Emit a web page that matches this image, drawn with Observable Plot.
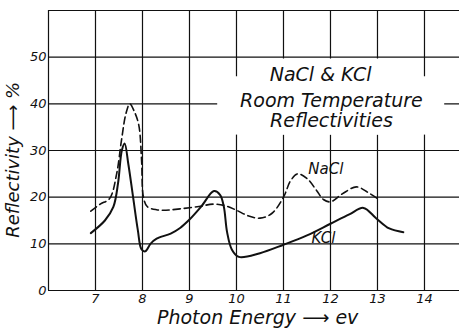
<!DOCTYPE html>
<html><head><meta charset="utf-8">
<script src="https://cdn.jsdelivr.net/npm/d3@7"></script>
<script src="https://cdn.jsdelivr.net/npm/@observablehq/plot@0.6"></script>
<style>body{margin:0;background:#fff} svg{display:block}</style>
</head><body><div id="chart"></div>
<script>
const naclEnergy = [6.9, 7.1, 7.3, 7.45, 7.55, 7.65, 7.73, 7.82, 7.92, 7.98, 8.02, 8.1, 8.3, 8.5, 8.8, 9.2, 9.5, 9.75, 10.0, 10.25, 10.5, 10.75, 11.0, 11.15, 11.3, 11.5, 11.7, 11.85, 12.0, 12.25, 12.55, 12.8, 13.0];
const naclRefl   = [17.0, 18.5, 19.7, 25, 32, 38, 40, 38.5, 35.5, 28, 20, 18, 17.3, 17.2, 17.5, 18, 18.5, 18.2, 17.2, 16, 15.5, 16.5, 20, 23.5, 25, 24, 21.5, 19.5, 19, 20.7, 22.2, 21, 19.7];
const kclEnergy = [6.9, 7.2, 7.38, 7.48, 7.56, 7.62, 7.7, 7.8, 7.9, 7.98, 8.06, 8.17, 8.3, 8.6, 8.8, 9.0, 9.25, 9.52, 9.65, 9.73, 9.8, 9.9, 10.05, 10.5, 11.0, 11.5, 12.0, 12.4, 12.7, 12.97, 13.25, 13.55];
const kclRefl   = [12.3, 15, 17.9, 23, 30, 31.5, 27, 20, 13, 8.8, 8.4, 10, 11.1, 12.2, 13.4, 15.2, 18, 21.3, 20.5, 18, 12.5, 8.8, 7.2, 8, 9.8, 11.8, 14.3, 16.3, 17.7, 15.5, 13.3, 12.5];
const xTicks = [7, 8, 9, 10, 11, 12, 13, 14];
const yTicks = [0, 10, 20, 30, 40, 50];
const xGrid = [6, 7, 8, 9, 10, 11, 12, 13, 14];
const yGrid = [0, 10, 20, 30, 40, 50, 60];
const titleLines = ["NaCl & KCl", "Room Temperature", "Reflectivities"];
const seriesNames = ["NaCl", "KCl"];
const xLabel = "Photon Energy ⟶ ev";
const yLabel = "Reflectivity ⟶ %";

const nacl = naclEnergy.map((e, i) => ({e, r: naclRefl[i]}));
const kcl = kclEnergy.map((e, i) => ({e, r: kclRefl[i]}));

const ink = "#111";
const chart = Plot.plot({
  width: 459, height: 329,
  marginLeft: 48, marginRight: 0, marginTop: 10, marginBottom: 39,
  style: {fontFamily: "DejaVu Sans", fontStyle: "italic", background: "#fff", color: ink},
  x: {domain: [6, 14.745], label: null},
  y: {domain: [0, 60], label: null},
  marks: [
    Plot.ruleX(xGrid, {stroke: ink, strokeWidth: 1.2}),
    Plot.ruleY(yGrid, {stroke: ink, strokeWidth: 1.2}),
    Plot.rect([0], {x1: 9.6, x2: 14.43, y1: 33.3, y2: 45.8, fill: "white"}),
    Plot.rect([0], {x1: 10.5, x2: 13.5, y1: 33.3, y2: 49.6, fill: "white"}),
    Plot.axisX({ticks: xTicks, tickSize: 0, tickPadding: 3, fontSize: 13}),
    Plot.axisY({ticks: yTicks, tickSize: 0, tickPadding: 2, fontSize: 13}),
    Plot.line(nacl, {x: "e", y: "r", stroke: ink, strokeWidth: 1.6, strokeDasharray: "7,4", curve: "catmull-rom"}),
    Plot.line(kcl, {x: "e", y: "r", stroke: ink, strokeWidth: 2, curve: "catmull-rom"}),
    Plot.text(titleLines, {x: [11.79, 12.02, 12.02], y: [46.1, 40.7, 36.4], text: d => d, fontSize: 19, fill: ink, letterSpacing: 3.2}),
    Plot.text(seriesNames, {x: [11.9, 11.85], y: [26, 11.3], text: d => d, fontSize: 15, fill: ink, letterSpacing: 0.5}),
    Plot.text([xLabel], {x: 10.45, y: -5.9, text: d => d, fontSize: 19, fill: ink, letterSpacing: 1.8}),
    Plot.text([yLabel], {x: 5.25, y: 28, text: d => d, fontSize: 18, rotate: -90, fill: ink, letterSpacing: 1.2})
  ]
});
document.getElementById("chart").append(chart);
</script>
</body></html>
